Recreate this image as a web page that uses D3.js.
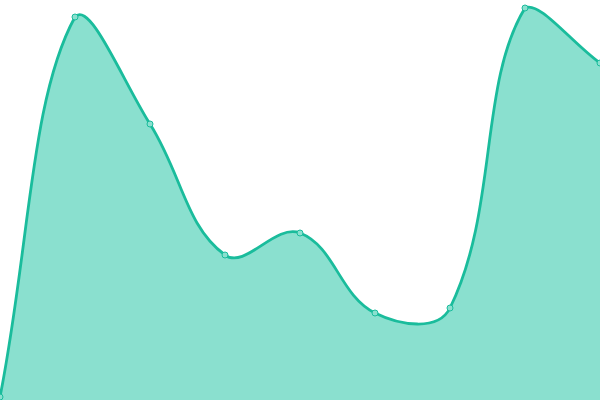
<!DOCTYPE html>
<html>
<head>
<meta charset="utf-8">
<script src="https://cdn.jsdelivr.net/npm/d3@7"></script>
<style>
  html, body { margin: 0; padding: 0; background: #fff; }
  svg { display: block; }
</style>
</head>
<body>
<div id="chart"></div>
<script type="text/javascript">
var w = 600,
    h = 400;

// one value per point, left to right
var labels = ["1", "2", "3", "4", "5", "6", "7", "8", "9"];
var values = [3, 383, 276, 145, 167, 87, 92, 392, 337];

var x = d3.scalePoint()
    .domain(labels)
    .range([0, w]);

var y = d3.scaleLinear()
    .domain([0, 400])
    .range([h, 0]);

var svg = d3.select("#chart").append("svg")
    .attr("width", w)
    .attr("height", h);

// spline with distance weighted tangents, control points kept inside the plot
function Spline(context, t) {
  this._context = context;
  this._t = t;
}

Spline.prototype = {
  areaStart: function() { this._line = 0; },
  areaEnd: function() { this._line = NaN; },
  lineStart: function() { this._pts = []; },
  point: function(px, py) { this._pts.push([+px, +py]); },
  lineEnd: function() {
    var p = this._pts, n = p.length, c = this._context, t = this._t;
    var cap = function(v, lo, hi) { return Math.max(lo, Math.min(hi, v)); };
    var cp = p.map(function(cur, i) {
      var prev = p[i - 1] || cur, next = p[i + 1] || cur;
      var d01 = Math.hypot(cur[0] - prev[0], cur[1] - prev[1]),
          d12 = Math.hypot(next[0] - cur[0], next[1] - cur[1]),
          s01 = d01 / (d01 + d12) || 0,
          s12 = d12 / (d01 + d12) || 0,
          fa = t * s01, fb = t * s12,
          dx = next[0] - prev[0], dy = next[1] - prev[1];
      return {
        prev: [cap(cur[0] - fa * dx, 0, w), cap(cur[1] - fa * dy, 0, h)],
        next: [cap(cur[0] + fb * dx, 0, w), cap(cur[1] + fb * dy, 0, h)]
      };
    });
    if (n) {
      this._line ? c.lineTo(p[0][0], p[0][1]) : c.moveTo(p[0][0], p[0][1]);
      for (var i = 1; i < n; i++) {
        c.bezierCurveTo(cp[i - 1].next[0], cp[i - 1].next[1],
                        cp[i].prev[0], cp[i].prev[1],
                        p[i][0], p[i][1]);
      }
    }
    if (this._line || (this._line !== 0 && n === 1)) c.closePath();
    this._line = 1 - this._line;
  }
};

function spline(context) { return new Spline(context, 0.4); }

var area = d3.area()
    .x(function(d, i) { return x(labels[i]); })
    .y0(h)
    .y1(function(d) { return y(d); })
    .curve(spline);

var line = d3.line()
    .x(function(d, i) { return x(labels[i]); })
    .y(function(d) { return y(d); })
    .curve(spline);

svg.append("path")
    .datum(values)
    .attr("d", area)
    .style("fill", "#8ae0cf");

svg.append("path")
    .datum(values)
    .attr("d", line)
    .style("fill", "none")
    .style("stroke", "#1abc9c")
    .style("stroke-width", 2.8);

svg.selectAll("circle")
    .data(values)
  .enter().append("circle")
    .attr("cx", function(d, i) { return x(labels[i]); })
    .attr("cy", function(d) { return y(d); })
    .attr("r", 3)
    .style("fill", "#8ae0cf")
    .style("stroke", "#1abc9c")
    .style("stroke-width", 1);
</script>
</body>
</html>
